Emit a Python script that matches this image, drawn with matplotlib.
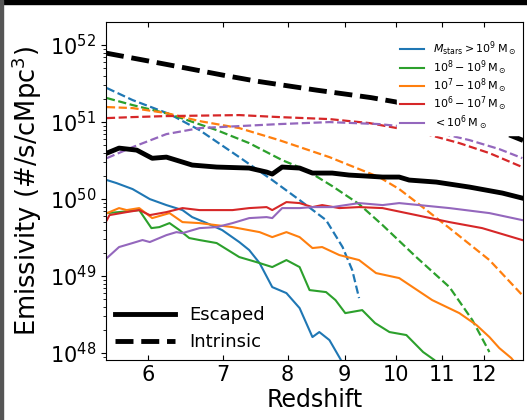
import matplotlib.pyplot as plt
import numpy as np
from matplotlib.patches import Rectangle
from matplotlib.lines import Line2D
from matplotlib.ticker import NullLocator

# log10 of emissivity [#/s/cMpc^3], vs redshift

# total, escaped and intrinsic
z_tot_int = [5.5, 6.0, 6.5, 7.0, 7.5, 8.0, 8.5, 9.0, 9.5, 10, 10.5, 11, 11.5, 12, 12.5, 13]
tot_int = [51.896, 51.794, 51.699, 51.610, 51.532, 51.471, 51.414, 51.365, 51.318,
           51.262, 51.178, 51.099, 51.023, 50.949, 50.861, 50.762]
z_tot_esc = [5.51, 5.65, 5.86, 6.05, 6.23, 6.44, 6.57, 6.91, 7.39, 7.66, 7.75, 7.91,
             8.20, 8.42, 8.77, 9.08, 9.41, 9.73, 10.07, 10.28, 10.87, 11.64, 12.46, 12.98]
tot_esc = [50.597, 50.662, 50.636, 50.530, 50.545, 50.481, 50.442, 50.416, 50.403, 50.351,
           50.325, 50.416, 50.403, 50.338, 50.338, 50.312, 50.299, 50.286, 50.286, 50.247,
           50.221, 50.156, 50.078, 50.013]

# intrinsic per mass bin
z_b_int = [5.51, 5.81, 6.27, 6.67, 7.24, 7.75, 8.20, 8.66, 8.96, 9.14, 9.27]
b_int = [51.442, 51.286, 51.104, 50.896, 50.545, 50.247, 49.987, 49.727, 49.377, 49.078, 48.714]
z_g_int = [5.51, 5.81, 6.27, 6.91, 7.39, 7.91, 8.31, 8.77, 9.27, 9.73, 10.43, 11.17, 11.71, 12.13]
g_int = [51.312, 51.221, 51.104, 50.896, 50.727, 50.506, 50.377, 50.169, 49.935, 49.662,
         49.247, 48.857, 48.429, 48.013]
z_o_int = [5.51, 5.81, 6.23, 6.67, 7.24, 7.86, 8.72, 9.08, 9.66, 10.07, 10.43, 11.17, 12.13, 12.98]
o_int = [51.195, 51.182, 51.117, 51.013, 50.922, 50.766, 50.545, 50.442, 50.286, 50.130,
         49.961, 49.623, 49.208, 48.753]
z_r_int = [5.51, 5.81, 6.23, 7.24, 7.86, 8.72, 9.47, 10.49, 11.40, 12.13, 12.98]
r_int = [51.052, 51.065, 51.078, 51.091, 51.065, 51.039, 50.987, 50.870, 50.727, 50.597, 50.416]
z_p_int = [5.51, 5.81, 6.23, 6.67, 7.24, 7.86, 8.72, 9.66, 10.49, 11.64, 12.38, 12.98]
p_int = [50.532, 50.675, 50.844, 50.922, 50.948, 50.974, 51.0, 50.974, 50.922, 50.766, 50.649, 50.532]

# escaped per mass bin
z_b_esc = [5.51, 5.62, 5.81, 6.02, 6.23, 6.44, 6.57, 6.77, 6.99, 7.24, 7.39, 7.55, 7.75,
           7.98, 8.20, 8.42, 8.54, 8.72, 8.92, 9.05]
b_esc = [50.247, 50.208, 50.130, 50.0, 49.922, 49.857, 49.766, 49.688, 49.597, 49.442, 49.338,
         49.169, 48.857, 48.779, 48.584, 48.208, 48.273, 48.169, 47.922, 47.714]
z_g_esc = [5.51, 5.65, 5.89, 6.04, 6.14, 6.27, 6.40, 6.53, 6.67, 6.91, 7.24, 7.50, 7.75, 7.98,
           8.20, 8.37, 8.66, 8.83, 9.01, 9.33, 9.58, 9.87, 10.22, 10.58, 10.83, 11.05]
g_esc = [49.818, 49.831, 49.857, 49.623, 49.636, 49.688, 49.597, 49.494, 49.468, 49.429, 49.247,
         49.182, 49.117, 49.208, 49.117, 48.818, 48.792, 48.688, 48.519, 48.558, 48.390, 48.273,
         48.234, 48.013, 47.909, 47.753]
z_o_esc = [5.51, 5.54, 5.65, 5.74, 5.89, 6.05, 6.27, 6.44, 6.67, 7.14, 7.55, 7.75, 7.98, 8.20,
           8.42, 8.59, 8.90, 9.27, 9.60, 10.07, 10.78, 11.40, 11.81, 12.13, 12.38, 12.69, 12.90]
o_esc = [49.818, 49.831, 49.883, 49.857, 49.883, 49.753, 49.818, 49.701, 49.688, 49.636, 49.571,
         49.506, 49.571, 49.506, 49.364, 49.377, 49.273, 49.208, 49.039, 48.974, 48.688, 48.519,
         48.364, 48.208, 48.065, 47.935, 47.805]
z_r_esc = [5.51, 5.54, 5.74, 5.89, 6.02, 6.23, 6.44, 6.67, 7.14, 7.39, 7.66, 7.75, 7.98, 8.20,
           8.42, 8.59, 8.90, 9.27, 9.73, 10.43, 11.17, 11.95, 12.98]
r_esc = [49.727, 49.792, 49.831, 49.857, 49.792, 49.831, 49.883, 49.857, 49.857, 49.883, 49.896,
         49.857, 49.961, 49.948, 49.896, 49.922, 49.883, 49.896, 49.883, 49.792, 49.701, 49.623,
         49.468]
z_p_esc = [5.51, 5.65, 5.81, 5.93, 6.02, 6.23, 6.36, 6.44, 6.67, 6.91, 7.14, 7.39, 7.66, 7.75,
           7.91, 8.20, 8.42, 8.77, 9.27, 9.73, 10.07, 11.17, 12.13, 12.98]
p_esc = [49.234, 49.377, 49.429, 49.468, 49.442, 49.532, 49.571, 49.558, 49.623, 49.636, 49.688,
         49.753, 49.766, 49.753, 49.883, 49.883, 49.896, 49.896, 49.948, 49.922, 49.948, 49.883,
         49.818, 49.727]

labels = [r'$M_{\rm stars}>10^9\,{\rm M_\odot}$', r'$10^8-10^9\,{\rm M_\odot}$',
          r'$10^7-10^8\,{\rm M_\odot}$', r'$10^6-10^7\,{\rm M_\odot}$', r'$<10^6\,{\rm M_\odot}$']
colors = ['C0', 'C2', 'C1', 'C3', 'C4']
xticks = [6, 7, 8, 9, 10, 11, 12]

esc = [(z_b_esc, b_esc), (z_g_esc, g_esc), (z_o_esc, o_esc), (z_r_esc, r_esc), (z_p_esc, p_esc)]
intr = [(z_b_int, b_int), (z_g_int, g_int), (z_o_int, o_int), (z_r_int, r_int), (z_p_int, p_int)]

fig = plt.figure(figsize=(5.27, 4.2), dpi=100)
ax = fig.add_axes([106/527, 1-360/420, (523-106)/527, (360-22)/420])

lines = []
for (ze, ye), (zi, yi), c, lab in zip(esc, intr, colors, labels):
    l, = ax.plot(ze, 10**np.array(ye), color=c, lw=1.5, label=lab)
    ax.plot(zi, 10**np.array(yi), color=c, lw=1.6, ls='--')
    lines.append(l)

ax.plot(z_tot_esc, 10**np.array(tot_esc), color='k', lw=3.5)
ax.plot(z_tot_int, 10**np.array(tot_int), color='k', lw=3.5, ls='--')

ax.set_xscale('log')
ax.set_yscale('log')
ax.set_xlim(5.5, 13.0)
ax.set_ylim(10**47.91, 10**52.3)
ax.set_xticks(xticks)
ax.set_xticklabels([str(t) for t in xticks])
ax.xaxis.set_minor_locator(NullLocator())
ax.tick_params(axis='both', labelsize=15)
ax.tick_params(axis='x', direction='in')
ax.tick_params(axis='x', top=True)
ax.set_xlabel('Redshift', fontsize=17, labelpad=2)
ax.set_ylabel(r'Emissivity (#/s/cMpc$^3$)', fontsize=18.5, labelpad=4)

leg1 = ax.legend(handles=lines, loc='upper right', bbox_to_anchor=(1.0, 0.967), fontsize=8,
                 framealpha=1, edgecolor='white', handlelength=2.2, labelspacing=0.0,
                 borderaxespad=0.3, borderpad=0.3)
ax.add_artist(leg1)
style = [Line2D([], [], color='k', lw=3.5), Line2D([], [], color='k', lw=3.5, ls='--')]
ax.legend(handles=style, labels=['Escaped', 'Intrinsic'], loc='lower left', fontsize=13,
          frameon=False, handlelength=3.3, labelspacing=0.5, borderaxespad=0.1)

# dark frame of the screenshot
fig.add_artist(Rectangle((0, 1-4/420), 1, 4/420, transform=fig.transFigure, color='black'))
fig.add_artist(Rectangle((0, 0), 2.5/527, 1, transform=fig.transFigure, color='#555555'))

fig.savefig('out.png', dpi=100)
